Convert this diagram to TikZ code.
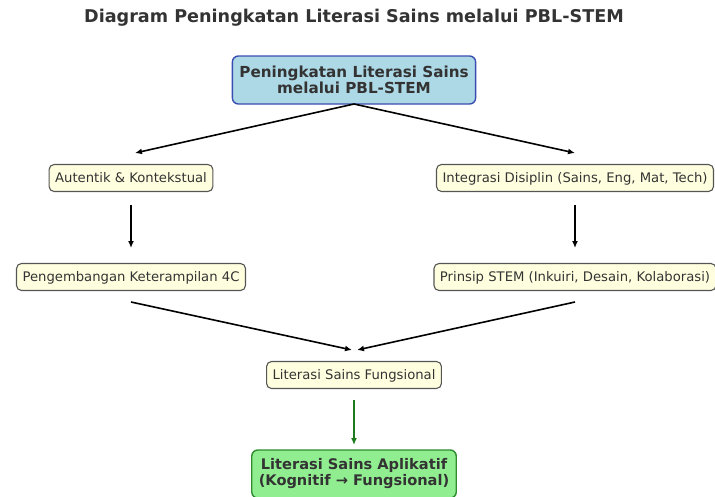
\documentclass[tikz,border=0pt]{standalone}
\usepackage{fontspec}
\setmainfont{DejaVu Sans}
\usetikzlibrary{arrows.meta}
\definecolor{txt}{HTML}{333333}
\definecolor{edge}{HTML}{555555}
\definecolor{ly}{HTML}{FFFFE0}
\definecolor{lb}{HTML}{ADD8E6}
\definecolor{lbedge}{HTML}{3A4DB0}
\definecolor{lg}{HTML}{90EE90}
\definecolor{lgedge}{HTML}{2E8B2E}
\definecolor{darrow}{HTML}{1E7A1E}
\tikzset{
  box/.style={draw=edge, line width=1.1pt, rounded corners=5pt, fill=ly, text=txt,
    font=\fontsize{13.2}{15}\selectfont, inner xsep=6pt, minimum height=27pt, text depth=2pt},
  topbox/.style={draw=lbedge, line width=1.4pt, rounded corners=6pt, fill=lb, text=txt,
    font=\fontsize{15.2}{16}\bfseries, align=center, inner xsep=7pt, minimum height=48pt},
  endbox/.style={draw=lgedge, line width=1.4pt, rounded corners=6pt, fill=lg, text=txt,
    font=\fontsize{14.6}{16}\bfseries, align=center, inner xsep=7pt, minimum height=48pt},
  arr/.style={line width=1.6pt, -{Latex[length=7pt,width=6pt]}},
}
\begin{document}
\begin{tikzpicture}[x=1pt,y=-1pt]
\useasboundingbox (0,0) rectangle (715,496);
\node[font=\fontsize{17.6}{20}\bfseries, text=txt] (title) at (354,18) {Diagram Peningkatan Literasi Sains melalui PBL-STEM};
\node[topbox] (top) at (354,80) {Peningkatan Literasi Sains\\melalui PBL-STEM};
\node[box] (aut) at (131,178) {Autentik \& Kontekstual};
\node[box] (int) at (575,178) {Integrasi Disiplin (Sains, Eng, Mat, Tech)};
\node[box] (peng) at (131,277) {Pengembangan Keterampilan 4C};
\node[box] (prin) at (575,277) {Prinsip STEM (Inkuiri, Desain, Kolaborasi)};
\node[box] (lsf) at (354,375) {Literasi Sains Fungsional};
\node[endbox] (lsa) at (354,474) {Literasi Sains Aplikatif\\(Kognitif → Fungsional)};
\coordinate (t1) at (354,104);
\coordinate (a1) at (135,153);
\coordinate (a2) at (575,153);
\coordinate (b1s) at (131,205);
\coordinate (b1e) at (131,248);
\coordinate (b2s) at (575,205);
\coordinate (b2e) at (575,248);
\coordinate (c1s) at (131,302);
\coordinate (c1e) at (352,350);
\coordinate (c2s) at (575,302);
\coordinate (c2e) at (357,350);
\coordinate (ds) at (354,400);
\coordinate (de) at (354,445);
\draw[arr] (t1) -- (a1);
\draw[arr] (t1) -- (a2);
\draw[arr] (b1s) -- (b1e);
\draw[arr] (b2s) -- (b2e);
\draw[arr] (c1s) -- (c1e);
\draw[arr] (c2s) -- (c2e);
\draw[arr, draw=darrow, fill=darrow] (ds) -- (de);
\end{tikzpicture}
\end{document}
